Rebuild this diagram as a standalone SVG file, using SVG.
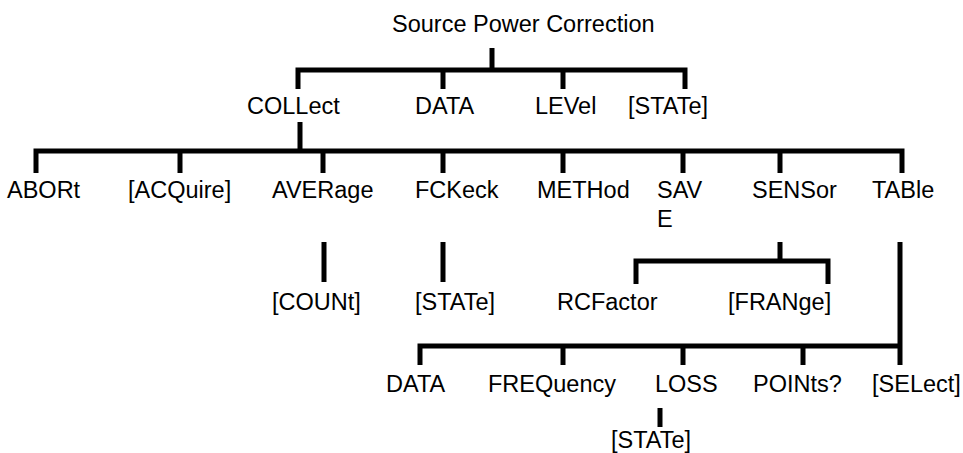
<svg xmlns="http://www.w3.org/2000/svg" width="963" height="453" viewBox="0 0 963 453">
<style>
text{font-family:"Liberation Sans",Arial,sans-serif;font-size:23.5px;fill:#000}
.c{fill:none;stroke:#000;stroke-width:5;stroke-linejoin:miter;stroke-linecap:butt}
</style>
<rect width="963" height="453" fill="#fff"/>
<g id="connectors">
<path class="c" d="M492 48V70M298 89V70H685V89M443 70V89M563 70V89"/>
<path class="c" d="M300 122V151M36 173V151H902V173M180 151V173M323 151V173M443 151V173M563 151V173M683 151V173M780 151V173"/>
<path class="c" d="M324 242V282M443 242V282"/>
<path class="c" d="M780 242V261M636 284V261H828V284"/>
<path class="c" d="M900 242V346M420 365V346H902M563 346V365M683 346V365M803 346V365M900 346V365"/>
<path class="c" d="M660 408V427"/>
</g>
<g id="n-root"><text x="392" y="32">Source Power Correction</text></g>
<g id="n-collect"><text x="247" y="114">COLLect</text></g>
<g id="n-data"><text x="415" y="114">DATA</text></g>
<g id="n-level"><text x="535" y="114">LEVel</text></g>
<g id="n-state"><text x="628" y="114">[STATe]</text></g>
<g id="n-abort"><text x="7" y="198">ABORt</text></g>
<g id="n-acquire"><text x="128" y="198">[ACQuire]</text></g>
<g id="n-average"><text x="272" y="198">AVERage</text></g>
<g id="n-fckeck"><text x="415" y="198">FCKeck</text></g>
<g id="n-method"><text x="537" y="198">METHod</text></g>
<g id="n-save"><text x="657" y="198">SAV</text><text x="657" y="227">E</text></g>
<g id="n-sensor"><text x="752" y="198">SENSor</text></g>
<g id="n-table"><text x="872" y="198">TABle</text></g>
<g id="n-count"><text x="272" y="310">[COUNt]</text></g>
<g id="n-fcstate"><text x="415" y="310">[STATe]</text></g>
<g id="n-rcfactor"><text x="557" y="310">RCFactor</text></g>
<g id="n-frange"><text x="728" y="310">[FRANge]</text></g>
<g id="n-tdata"><text x="386" y="392">DATA</text></g>
<g id="n-freq"><text x="488" y="392">FREQuency</text></g>
<g id="n-loss"><text x="655" y="392">LOSS</text></g>
<g id="n-points"><text x="753" y="392">POINts?</text></g>
<g id="n-select"><text x="872" y="392">[SELect]</text></g>
<g id="n-lstate"><text x="611" y="448">[STATe]</text></g>
</svg>
